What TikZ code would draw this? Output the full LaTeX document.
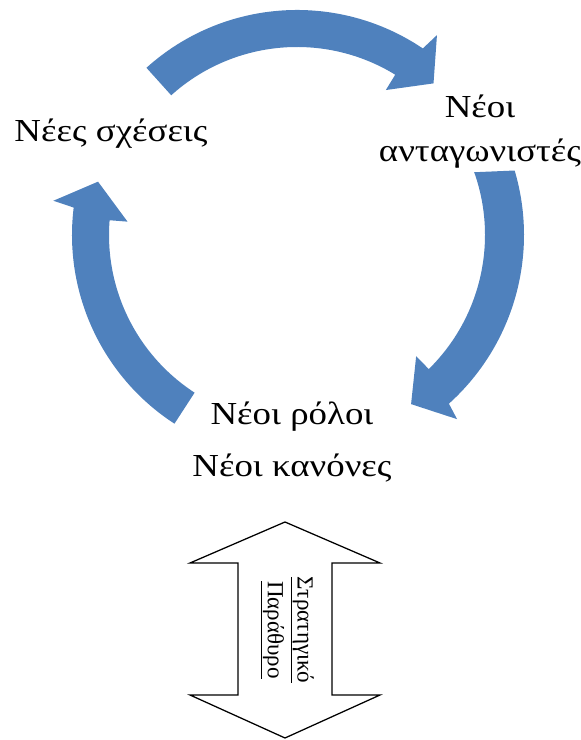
\documentclass[tikz,border=0pt]{standalone}
\usepackage{fontspec}
\setmainfont{Liberation Serif}[FakeStretch=1.15]
\newfontfamily\winfont{Liberation Serif}
\definecolor{cyclecolor}{RGB}{79,129,189}

\begin{document}
\begin{tikzpicture}[x=0.025cm, y=0.025cm,
    stage/.style = {font=\fontsize{22.8}{31.3}\selectfont, align=center, inner sep=0pt},
    cyc/.style = {fill=cyclecolor, draw=none},
    winarrow/.style = {draw=black, line width=0.9pt, fill=white}]
    \useasboundingbox (0,0) rectangle (580,740);

    \node[stage] (relations) at (111,606) {Νέες σχέσεις};
    \node[stage] (rivals) at (480,608) {Νέοι\\ανταγωνιστές};
    \node[stage, font=\fontsize{22.8}{37}\selectfont] (roles) at (292,298) {Νέοι ρόλοι\\Νέοι κανόνες};

    % circular arrows
    \begin{scope}[shift={(297,505)}]
        \fill[cyc] (132:225) arc[start angle=132, end angle=56, radius=225] -- (55:244) -- (48:204)
            -- (58.5:170) -- (58.5:188) arc[start angle=58.5, end angle=132, radius=188] -- cycle;
        \fill[cyc] (16.5:227) arc[start angle=16.5, end angle=-48, radius=227] -- (-49:244) -- (-56:204)
            -- (-45.5:170) -- (-45.5:188) arc[start angle=-45.5, end angle=19.5, radius=188] -- cycle;
        \fill[cyc] (237:225) arc[start angle=237, end angle=173, radius=225] -- (172:246) -- (165:206)
            -- (175.5:170) -- (175.5:188) arc[start angle=175.5, end angle=237, radius=188] -- cycle;
    \end{scope}

    % strategic window
    \draw[winarrow] (285,218) -- (380,177) -- (332,177) -- (332,45) -- (380,45) -- (285,2)
        -- (190,45) -- (238,45) -- (238,177) -- (190,177) -- cycle;
    \node[rotate=-90, align=center, inner sep=0pt, font=\winfont\fontsize{16.4}{21.3}\selectfont] (window) at (287,110)
        {\underline{Στρατηγικό}\\\underline{Παράθυρο}};
\end{tikzpicture}
\end{document}
